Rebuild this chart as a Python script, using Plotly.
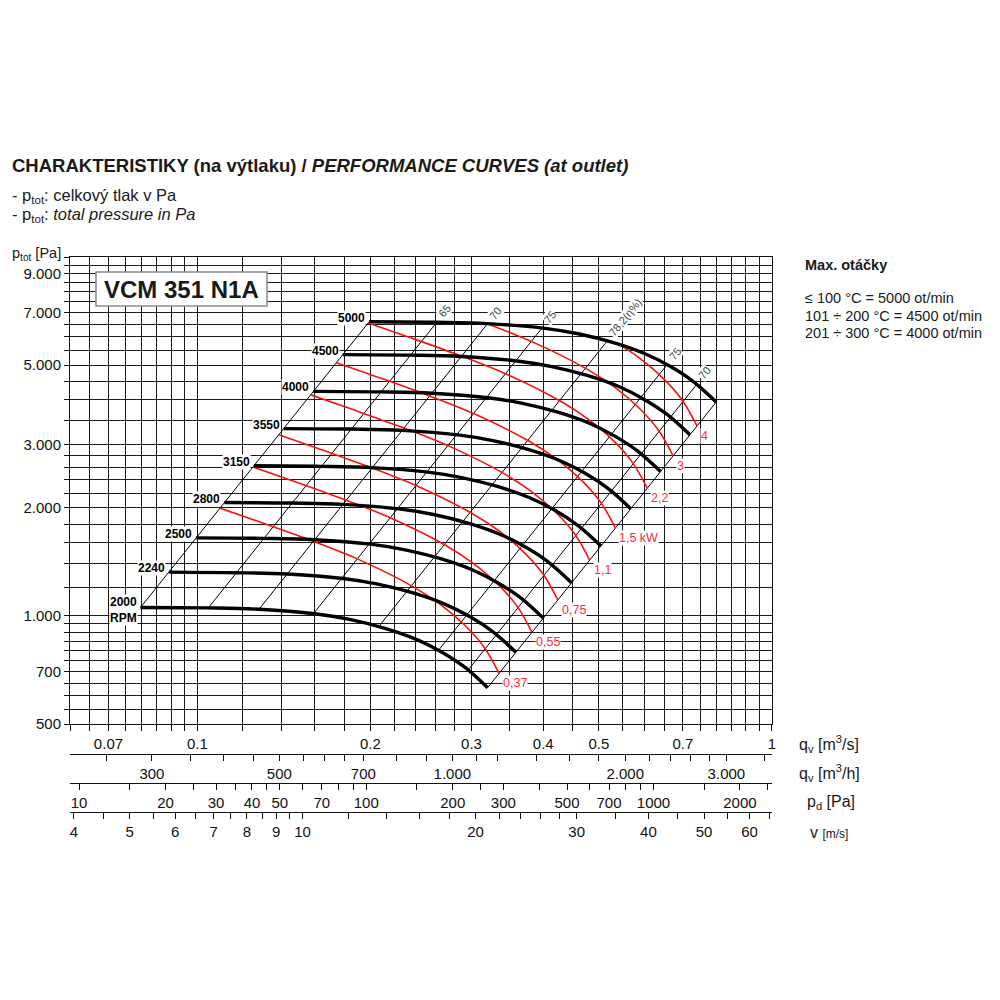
import numpy as np
import plotly.graph_objects as go

FONT = "Liberation Sans, Arial, sans-serif"

# ---------------- fan curves (q in m3/s, p_tot in Pa) ----------------
rpm_labels = ["2000<br>RPM", "2240", "2500", "2800", "3150", "3550", "4000", "4500", "5000"]

q_2000 = [0.0796, 0.104, 0.128, 0.160, 0.184, 0.212, 0.240, 0.266, 0.292, 0.320]
p_2000 = [1056, 1053, 1044, 1014, 978, 924, 862, 794, 720, 631]
q_2240 = [0.0892, 0.1165, 0.1434, 0.1792, 0.2061, 0.2374, 0.2688, 0.2979, 0.3270, 0.3584]
p_2240 = [1325, 1320, 1309, 1272, 1227, 1159, 1081, 996, 903, 792]
q_2500 = [0.0995, 0.130, 0.160, 0.200, 0.230, 0.265, 0.300, 0.3325, 0.365, 0.400]
p_2500 = [1650, 1645, 1631, 1585, 1528, 1444, 1347, 1240, 1125, 986]
q_2800 = [0.1114, 0.1456, 0.1792, 0.224, 0.2576, 0.2968, 0.336, 0.3724, 0.4088, 0.448]
p_2800 = [2070, 2063, 2046, 1988, 1917, 1811, 1689, 1556, 1411, 1237]
q_3150 = [0.1254, 0.1638, 0.2016, 0.252, 0.2898, 0.3339, 0.378, 0.4190, 0.4599, 0.504]
p_3150 = [2620, 2611, 2589, 2516, 2426, 2292, 2138, 1969, 1785, 1566]
q_3550 = [0.1413, 0.1846, 0.2272, 0.284, 0.3266, 0.3763, 0.426, 0.4722, 0.5183, 0.568]
p_3550 = [3327, 3317, 3289, 3195, 3081, 2911, 2716, 2501, 2267, 1989]
q_4000 = [0.1592, 0.208, 0.256, 0.320, 0.368, 0.424, 0.480, 0.532, 0.584, 0.640]
p_4000 = [4224, 4211, 4175, 4056, 3912, 3696, 3448, 3175, 2879, 2525]
q_4500 = [0.1791, 0.234, 0.288, 0.360, 0.414, 0.477, 0.540, 0.5985, 0.657, 0.720]
p_4500 = [5346, 5329, 5284, 5134, 4951, 4678, 4364, 4018, 3643, 3196]
q_5000 = [0.199, 0.260, 0.320, 0.400, 0.460, 0.530, 0.600, 0.665, 0.730, 0.800]
p_5000 = [6600, 6579, 6524, 6338, 6112, 5775, 5387, 4961, 4498, 3945]

fan_q = [q_2000, q_2240, q_2500, q_2800, q_3150, q_3550, q_4000, q_4500, q_5000]
fan_p = [p_2000, p_2240, p_2500, p_2800, p_3150, p_3550, p_4000, p_4500, p_5000]

# ---------------- power curves (kW) ----------------
power_labels = ["0,37", "0,55", "0,75", "1,1", "1,5 kW", "2,2", "3", "4"]
q_037 = [0.1095, 0.1282, 0.1567, 0.1915, 0.2372, 0.2640, 0.2938, 0.3162, 0.3350]
p_037 = [1997, 1829, 1629, 1433, 1207, 1080, 933, 814, 692]
q_055 = [0.1249, 0.1463, 0.1788, 0.2185, 0.2707, 0.3012, 0.3352, 0.3608, 0.3822]
p_055 = [2600, 2381, 2121, 1866, 1572, 1406, 1215, 1060, 901]
q_075 = [0.1386, 0.1622, 0.1983, 0.2423, 0.3002, 0.3341, 0.3718, 0.4002, 0.4239]
p_075 = [3198, 2929, 2609, 2295, 1933, 1730, 1494, 1304, 1108]
q_110 = [0.1575, 0.1844, 0.2253, 0.2754, 0.3411, 0.3796, 0.4225, 0.4547, 0.4817]
p_110 = [4130, 3782, 3369, 2963, 2496, 2233, 1929, 1683, 1431]
q_150 = [0.1745, 0.2044, 0.2498, 0.3053, 0.3781, 0.4208, 0.4683, 0.5040, 0.5340]
p_150 = [5074, 4648, 4139, 3641, 3067, 2744, 2371, 2068, 1758]
q_220 = [0.1983, 0.2322, 0.2838, 0.3468, 0.4296, 0.4781, 0.5321, 0.5726, 0.6067]
p_220 = [6550, 5999, 5343, 4700, 3959, 3542, 3060, 2670, 2270]
q_300 = [0.3185, 0.3847, 0.4765, 0.5304, 0.5902, 0.6352, 0.6730]
p_300 = [6526, 5784, 4872, 4359, 3766, 3285, 2793]
q_400 = [0.5415, 0.5837, 0.6496, 0.6991, 0.7407]
p_400 = [5711, 5279, 4561, 3979, 3383]

pow_q = [q_037, q_055, q_075, q_110, q_150, q_220, q_300, q_400]
pow_p = [p_037, p_055, p_075, p_110, p_150, p_220, p_300, p_400]

# ---------------- efficiency lines ----------------
eta_labels = ["65", "70", "75", "78,2(η%)", "75", "70"]
eta_q_top = [0.261, 0.320, 0.398, 0.517, 0.657, 0.740]
eta_p_top = [6578, 6524, 6342, 5838, 5013, 4419]
eta_q_bot = [0.1044, 0.128, 0.1592, 0.2068, 0.2628, 0.296]
eta_p_bot = [1052, 1044, 1015, 934, 802, 707]

# ---------------- axis ticks ----------------
y_label_vals = [500, 700, 1000, 2000, 3000, 5000, 7000, 9000]
y_label_text = ["500", "700", "1.000", "2.000", "3.000", "5.000", "7.000", "9.000"]
x_label_vals = [0.07, 0.1, 0.2, 0.3, 0.4, 0.5, 0.7, 1.0]
x_label_text = ["0.07", "0.1", "0.2", "0.3", "0.4", "0.5", "0.7", "1"]

qh_ticks = [250, 300, 350, 400, 450, 500, 550, 600, 650, 700, 800, 900, 1000, 1100, 1200,
            1400, 1600, 1800, 2000, 2200, 2400, 2600, 2800, 3000, 3500]
qh_label_vals = [300, 500, 700, 1000, 2000, 3000]
qh_label_text = ["300", "500", "700", "1.000", "2.000", "3.000"]

pd_ticks = [10, 15, 20, 25, 30, 35, 40, 45, 50, 60, 70, 80, 90, 100, 150, 200, 250, 300,
            400, 500, 600, 700, 800, 900, 1000, 1500, 2000, 2500]
pd_label_vals = [10, 20, 30, 40, 50, 70, 100, 200, 300, 500, 700, 1000, 2000]

v_ticks = [4, 4.5, 5, 5.5, 6, 6.5, 7, 7.5, 8, 8.5, 9, 9.5, 10, 12, 14, 16, 18, 20, 22, 24,
           26, 28, 30, 35, 40, 45, 50, 55, 60, 65]
v_label_vals = [4, 5, 6, 7, 8, 9, 10, 20, 30, 40, 50, 60]

# grid positions
y_grid = sorted(set([round(500 + 50 * i) for i in range(11)] +
                    [round(1000 + 200 * i) for i in range(11)] +
                    [round(3000 + 500 * i) for i in range(15)]))
x_grid = sorted(set([round(0.06 + 0.005 * i, 4) for i in range(9)] +
                    [round(0.1 + 0.02 * i, 4) for i in range(11)] +
                    [round(0.3 + 0.05 * i, 4) for i in range(15)]))

def labelled(ticks, vals, texts):
    out = []
    for t in ticks:
        hit = [tx for v, tx in zip(vals, texts) if abs(v - t) < 1e-9 * max(1, abs(v))]
        out.append(hit[0] if hit else "")
    return out

# ---------------- geometry (page has an 8px body margin) ----------------
W, H = 992, 992
ML, MR, MT, MB = 62, 228, 249, 140
PW, PH = W - ML - MR, H - MT - MB
OFF = 8
def py(ypix):
    return (H - MB - (ypix - OFF)) / PH
def px(xpix):
    return (xpix - OFF - ML) / PW

Q_MIN, Q_MAX = 0.06, 1.0005
AREA = 0.01524  # m2 outlet area -> velocity / dynamic pressure scales
RHO = 1.2

fig = go.Figure()

# efficiency lines + start / end boundary lines
for qb, pb, qt, pt in zip(eta_q_bot, eta_p_bot, eta_q_top, eta_p_top):
    fig.add_trace(go.Scatter(x=[qb, qt], y=[pb, pt], mode="lines",
                             line=dict(color="#000", width=1), hoverinfo="skip", showlegend=False))
fig.add_trace(go.Scatter(x=[c[0] for c in fan_q], y=[c[0] for c in fan_p], mode="lines",
                         line=dict(color="#000", width=1), hoverinfo="skip", showlegend=False))
fig.add_trace(go.Scatter(x=[c[-1] for c in fan_q], y=[c[-1] for c in fan_p], mode="lines",
                         line=dict(color="#000", width=1), hoverinfo="skip", showlegend=False))

# power curves
for qs, ps in zip(pow_q, pow_p):
    fig.add_trace(go.Scatter(x=qs, y=ps, mode="lines", line=dict(color="#ff1010", width=1.6, shape="spline"),
                             hoverinfo="skip", showlegend=False))

# fan curves
for qs, ps in zip(fan_q, fan_p):
    fig.add_trace(go.Scatter(x=qs, y=ps, mode="lines", line=dict(color="#000", width=3.4, shape="spline"),
                             hoverinfo="skip", showlegend=False))

# dummy traces so the secondary axes exist
fig.add_trace(go.Scatter(x=[1000], y=[1000], xaxis="x2", mode="markers", marker=dict(opacity=0),
                         hoverinfo="skip", showlegend=False))
fig.add_trace(go.Scatter(x=[100], y=[1000], xaxis="x3", mode="markers", marker=dict(opacity=0),
                         hoverinfo="skip", showlegend=False))
fig.add_trace(go.Scatter(x=[10], y=[1000], xaxis="x4", mode="markers", marker=dict(opacity=0),
                         hoverinfo="skip", showlegend=False))

ann = []
# rpm labels
for lab, qs, ps in zip(rpm_labels, fan_q, fan_p):
    two = "<br>" in lab
    ann.append(dict(x=np.log10(qs[0]), y=np.log10(ps[0]), xref="x", yref="y", text="<b>%s</b>" % lab,
                    showarrow=False, xanchor="right", yanchor="middle", align="left",
                    xshift=-3, yshift=-3 if two else 4, bgcolor="white", borderpad=0,
                    font=dict(family=FONT, size=12, color="#000")))
# power labels
for lab, qs, ps in zip(power_labels, pow_q, pow_p):
    ann.append(dict(x=np.log10(qs[-1]), y=np.log10(ps[-1]), xref="x", yref="y", text=lab,
                    showarrow=False, xanchor="left", yanchor="top", xshift=3, yshift=-2,
                    bgcolor="white", borderpad=0, font=dict(family=FONT, size=12.5, color="#ff2a3a")))
# efficiency labels
for lab, qt, pt in zip(eta_labels, eta_q_top, eta_p_top):
    ann.append(dict(x=np.log10(qt), y=np.log10(pt), xref="x", yref="y", text=lab,
                    showarrow=False, xanchor="left", yanchor="bottom", textangle=-51,
                    xshift=-2, yshift=1, bgcolor="white", borderpad=0,
                    font=dict(family=FONT, size=11, color="#444")))

def txt(x, y, text, size, anchor="left"):
    return dict(x=px(x), y=py(y), xref="paper", yref="paper", xanchor=anchor, yanchor="middle",
                showarrow=False, text=text, font=dict(family=FONT, size=size, color="#1a1a1a"))

ann += [
    txt(10, 166, "<b>CHARAKTERISTIKY (na výtlaku) / <i>PERFORMANCE CURVES (at outlet)</i></b>", 18.5),
    txt(10, 196, "- p<sub>tot</sub>: celkový tlak v Pa", 16.5),
    txt(10, 215, "- p<sub>tot</sub>: <i>total pressure in Pa</i>", 16.5),
    txt(10, 254, "p<sub>tot</sub> [Pa]", 14.5),
    txt(181.5, 289, "<b>VCM 351 N1A</b>", 24, "center"),
    txt(803, 265, "<b>Max. otáčky</b>", 14.5),
    txt(803, 298, "≤ 100 °C = 5000 ot/min", 14.5),
    txt(803, 316, "101 ÷ 200 °C = 4500 ot/min", 14.5),
    txt(803, 333, "201 ÷ 300 °C = 4000 ot/min", 14.5),
    txt(797, 744, "q<sub>v</sub> [m<sup>3</sup>/s]", 16),
    txt(797, 773, "q<sub>v</sub> [m<sup>3</sup>/h]", 16),
    txt(805, 802, "p<sub>d</sub> [Pa]", 16),
    txt(808, 832, "v <span style='font-size:12px'>[m/s]</span>", 16),
]

shapes = [dict(type="rect", xref="paper", yref="paper", x0=px(96), x1=px(267), y0=py(306), y1=py(272),
               fillcolor="white", line=dict(color="#8a8a8a", width=1.5), layer="above")]

tickfont = dict(family=FONT, size=15, color="#111")
q_lo, q_hi = np.log10(Q_MIN), np.log10(Q_MAX)
v_lo, v_hi = np.log10(Q_MIN / AREA), np.log10(Q_MAX / AREA)
pd_lo = np.log10(0.5 * RHO * (Q_MIN / AREA) ** 2)
pd_hi = np.log10(0.5 * RHO * (Q_MAX / AREA) ** 2)

def sec_axis(pos, lo, hi, ticks, texts):
    return dict(type="log", range=[lo, hi], overlaying="x", anchor="free", position=pos, side="bottom",
                showgrid=False, zeroline=False, showline=True, linecolor="#111", linewidth=1,
                ticks="outside", ticklen=6, tickcolor="#111", tickwidth=1,
                tickvals=ticks, ticktext=texts, tickfont=tickfont)

fig.update_layout(
    width=W, height=H, margin=dict(l=ML, r=MR, t=MT, b=MB, pad=0),
    paper_bgcolor="white", plot_bgcolor="white", showlegend=False,
    xaxis=dict(type="log", range=[q_lo, q_hi], domain=[0, 1], anchor="y",
               tickvals=x_grid, ticktext=labelled(x_grid, x_label_vals, x_label_text),
               showgrid=True, gridcolor="#1a1a1a", gridwidth=1, zeroline=False,
               showline=True, linecolor="#111", linewidth=1, mirror=True,
               ticks="outside", ticklen=6, tickcolor="#111", tickfont=tickfont),
    yaxis=dict(type="log", range=[np.log10(500), np.log10(10002)], domain=[py(724), 1],
               tickvals=y_grid, ticktext=labelled(y_grid, y_label_vals, y_label_text),
               showgrid=True, gridcolor="#1a1a1a", gridwidth=1, zeroline=False,
               showline=True, linecolor="#111", linewidth=1, mirror=True,
               ticks="outside", ticklen=5, tickcolor="#111", tickfont=tickfont),
    xaxis2=sec_axis(py(754), q_lo + np.log10(3600), q_hi + np.log10(3600), qh_ticks,
                    labelled(qh_ticks, qh_label_vals, qh_label_text)),
    xaxis3=sec_axis(py(783), pd_lo, pd_hi, pd_ticks,
                    labelled(pd_ticks, pd_label_vals, [str(v) for v in pd_label_vals])),
    xaxis4=sec_axis(py(812), v_lo, v_hi, v_ticks,
                    labelled(v_ticks, v_label_vals, [str(v) for v in v_label_vals])),
    annotations=ann, shapes=shapes,
)

fig.write_html("out.html")
